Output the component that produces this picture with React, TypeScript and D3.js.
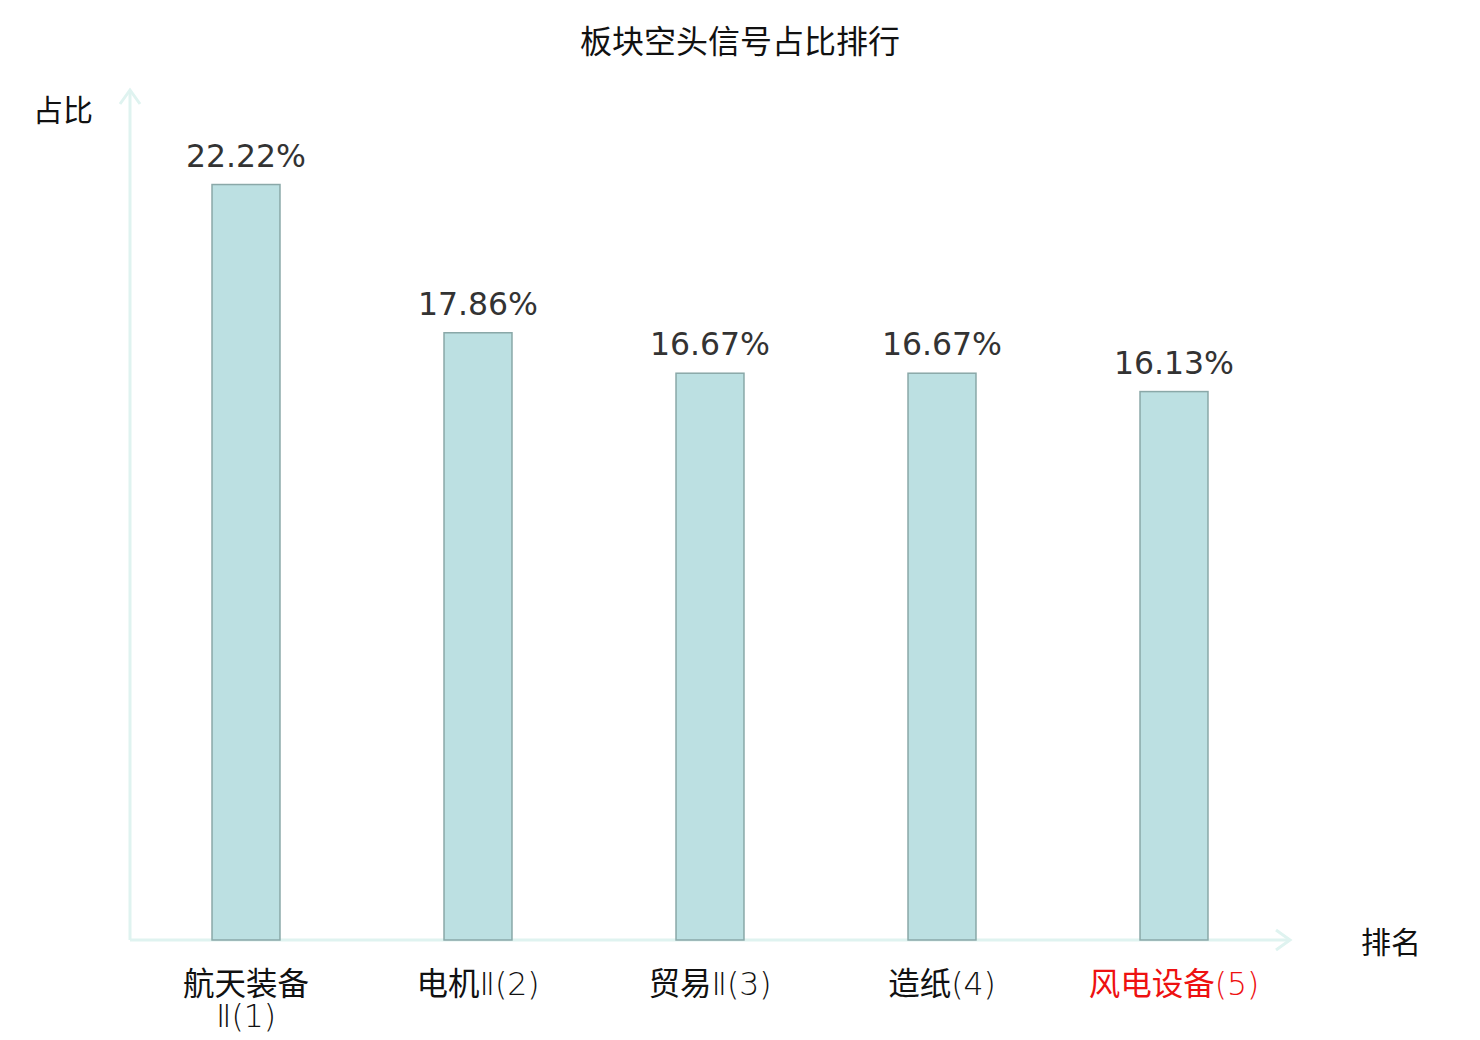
import { useEffect, useRef } from "react";
import * as d3 from "d3";

// ---- data ----
const categories = ["航天装备Ⅱ(1)", "电机Ⅱ(2)", "贸易Ⅱ(3)", "造纸(4)", "风电设备(5)"];
const values = [22.22, 17.86, 16.67, 16.67, 16.13];
const highlighted = ["风电设备(5)"];

const title = "板块空头信号占比排行";
const yName = "占比";
const xName = "排名";

const W = 1480;
const H = 1040;

const App = () => {
  const svgRef = useRef<SVGSVGElement | null>(null);

  useEffect(() => {
    document.body.style.margin = "0";
    const svg = d3.select(svgRef.current);
    svg.selectAll("*").remove();

    const x0 = 130;
    const x1 = 1290;
    const yBase = 940;
    const yTop = 90;

    const x = d3.scaleBand<string>().domain(categories).range([x0, x1]).padding(0);
    const y = d3.scaleLinear().domain([0, 25]).range([yBase, yTop]);
    const barW = x.bandwidth() * 0.293;

    const cjk = "'Noto Sans CJK SC', 'DejaVu Sans', sans-serif";
    const latin = "'DejaVu Sans', 'Noto Sans CJK SC', sans-serif";
    const axisColor = "#dff3f0";

    // title
    svg
      .append("text")
      .attr("x", W / 2)
      .attr("y", 53)
      .attr("text-anchor", "middle")
      .attr("font-family", cjk)
      .attr("font-size", 32)
      .attr("fill", "#111")
      .text(title);

    // axes with arrows
    const ax = svg.append("g").attr("stroke", axisColor).attr("stroke-width", 3).attr("fill", "none");
    ax.append("line").attr("x1", x0).attr("y1", yBase).attr("x2", x0).attr("y2", yTop);
    ax.append("path").attr("d", `M${x0 - 10},${yTop + 14} L${x0},${yTop} L${x0 + 10},${yTop + 14}`);
    ax.append("line").attr("x1", x0).attr("y1", yBase).attr("x2", x1).attr("y2", yBase);
    ax.append("path").attr("d", `M${x1 - 14},${yBase - 10} L${x1},${yBase} L${x1 - 14},${yBase + 10}`);

    svg
      .append("text")
      .attr("x", 63)
      .attr("y", 121)
      .attr("text-anchor", "middle")
      .attr("font-family", cjk)
      .attr("font-size", 30)
      .attr("fill", "#111")
      .text(yName);

    svg
      .append("text")
      .attr("x", 1391)
      .attr("y", 953)
      .attr("text-anchor", "middle")
      .attr("font-family", cjk)
      .attr("font-size", 30)
      .attr("fill", "#111")
      .text(xName);

    // bars
    svg
      .append("g")
      .selectAll("rect")
      .data(values)
      .join("rect")
      .attr("x", (_, i) => (x(categories[i]) as number) + x.bandwidth() / 2 - barW / 2)
      .attr("y", (d) => y(d))
      .attr("width", barW)
      .attr("height", (d) => yBase - y(d))
      .attr("fill", "#bce0e2")
      .attr("stroke", "#8aa8a8")
      .attr("stroke-width", 1.5);

    // value labels
    svg
      .append("g")
      .selectAll("text")
      .data(values)
      .join("text")
      .attr("x", (_, i) => (x(categories[i]) as number) + x.bandwidth() / 2)
      .attr("y", (d) => y(d) - 18)
      .attr("text-anchor", "middle")
      .attr("font-family", "'DejaVu Sans', sans-serif")
      .attr("font-size", 31.5)
      .attr("fill", "#333")
      .text((d) => d.toFixed(2) + "%");

    // category labels, long ones wrapped after 4 chars
    const lab = svg
      .append("g")
      .selectAll("g")
      .data(categories)
      .join("g")
      .attr("font-size", 31.5)
      .attr("fill", (d) => (highlighted.includes(d) ? "#ee1111" : "#111"));

    lab.each(function (d) {
      const cx = (x(d) as number) + x.bandwidth() / 2;
      const lines = d.length > 7 ? [d.slice(0, 4), d.slice(4)] : [d];
      lines.forEach((l, i) => {
        const t = d3
          .select(this)
          .append("text")
          .attr("x", cx)
          .attr("y", 995 + i * 32)
          .attr("text-anchor", "middle");
        // CJK runs in Noto, the rest in a thin DejaVu
        const runs = l.match(/[\u4e00-\u9fff]+|[^\u4e00-\u9fff]+/g) || [];
        runs.forEach((r) => {
          const isCjk = /[\u4e00-\u9fff]/.test(r);
          t.append("tspan")
            .attr("font-family", isCjk ? cjk : latin)
            .attr("font-weight", isCjk ? 400 : 200)
            .text(r);
        });
      });
    });
  }, []);

  return <svg ref={svgRef} width={W} height={H} style={{ display: "block", background: "#fff" }} />;
};

export default App;
